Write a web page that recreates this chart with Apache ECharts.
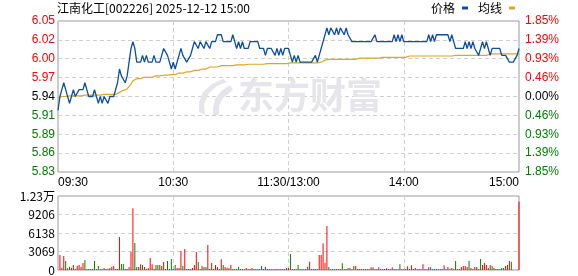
<!DOCTYPE html>
<html><head><meta charset="utf-8">
<script src="https://cdn.jsdelivr.net/npm/echarts@6/dist/echarts.min.js"></script>
<style>html,body{margin:0;padding:0;background:#fff}#c{width:578px;height:276px}</style>
</head><body><div id="c"></div>
<script>
const stockTitle = '江南化工[002226] 2025-12-12 15:00';
const seriesNames = ['价格', '均线'];
const preClose = 5.94;
const priceMin = 5.83, priceMax = 6.05, priceStep = 0.0275;
const volMax = 12275, volStep = 3068.75;
const priceTicks = ['5.83','5.86','5.89','5.91','5.94','5.97','6.00','6.02','6.05'];
const pctTicks = ['1.85%','1.39%','0.93%','0.46%','0.00%','0.46%','0.93%','1.39%','1.85%'];
const volTicks = ['0','3069','6138','9206','1.23万'];
const timeTickIdx = [0, 60, 120, 180, 240];
const timeTicks = ['09:30','10:30','11:30/13:00','14:00','15:00'];

const price = [
5.92,5.94,5.95,5.96,5.95,5.94,5.93,5.94,5.95,5.94,
5.94,5.95,5.95,5.95,5.96,5.95,5.94,5.94,5.94,5.95,
5.94,5.93,5.94,5.93,5.94,5.94,5.93,5.94,5.94,5.94,
5.94,5.96,5.98,5.97,5.97,5.96,5.97,5.99,6.01,6.02,
6.01,5.99,5.99,5.99,6.00,5.99,6.00,5.99,5.99,5.99,
6.00,5.99,5.99,5.99,6.00,6.01,6.01,6.00,5.99,5.98,
5.99,5.98,5.99,6.00,6.01,6.00,6.00,5.99,5.99,6.00,
6.01,6.02,6.02,6.01,6.02,6.02,6.01,6.02,6.02,6.01,
6.02,6.02,6.02,6.03,6.03,6.03,6.02,6.02,6.02,6.02,
6.02,6.03,6.02,6.01,6.02,6.01,6.02,6.01,6.01,6.01,
6.02,6.02,6.02,6.02,6.02,6.01,6.01,6.01,6.00,6.01,
6.01,6.01,6.01,6.00,6.01,6.00,6.01,6.00,6.01,6.01,
6.01,6.00,5.99,6.00,5.99,6.00,5.99,5.99,5.99,5.99,
5.99,5.99,5.99,5.99,6.00,5.99,6.00,6.01,6.02,6.03,
6.04,6.03,6.04,6.04,6.03,6.04,6.03,6.04,6.04,6.03,
6.04,6.03,6.03,6.02,6.02,6.02,6.02,6.02,6.02,6.02,
6.02,6.02,6.02,6.02,6.02,6.03,6.02,6.02,6.02,6.02,
6.02,6.02,6.02,6.02,6.02,6.03,6.02,6.03,6.02,6.03,
6.02,6.02,6.02,6.02,6.02,6.02,6.02,6.02,6.02,6.02,
6.02,6.02,6.02,6.03,6.02,6.03,6.02,6.03,6.03,6.03,
6.03,6.03,6.03,6.03,6.02,6.03,6.02,6.01,6.01,6.01,
6.01,6.01,6.02,6.01,6.02,6.01,6.02,6.01,6.01,6.00,
6.01,6.02,6.01,6.02,6.01,6.00,6.01,6.01,6.01,6.01,
6.01,6.00,6.00,6.00,6.00,5.99,5.99,5.99,5.99,6.00,
6.01
];

const avg = [
5.938,5.940,5.940,5.940,5.940,5.940,5.941,5.941,5.941,5.941,
5.941,5.941,5.941,5.942,5.942,5.942,5.942,5.942,5.942,5.942,
5.942,5.942,5.942,5.943,5.943,5.943,5.943,5.943,5.943,5.943,
5.943,5.944,5.946,5.948,5.949,5.950,5.951,5.953,5.958,5.963,
5.964,5.966,5.966,5.966,5.966,5.968,5.968,5.968,5.968,5.968,
5.968,5.970,5.970,5.970,5.970,5.971,5.971,5.971,5.971,5.972,
5.972,5.972,5.972,5.974,5.974,5.974,5.974,5.976,5.976,5.976,
5.976,5.978,5.978,5.978,5.978,5.980,5.980,5.980,5.980,5.983,
5.983,5.983,5.983,5.983,5.983,5.985,5.985,5.985,5.985,5.985,
5.985,5.985,5.985,5.986,5.986,5.986,5.986,5.986,5.986,5.987,
5.987,5.987,5.987,5.987,5.987,5.987,5.987,5.987,5.988,5.988,
5.988,5.988,5.988,5.988,5.988,5.988,5.988,5.988,5.988,5.988,
5.988,5.989,5.989,5.989,5.989,5.989,5.989,5.989,5.989,5.989,
5.989,5.989,5.989,5.989,5.989,5.989,5.989,5.990,5.991,5.993,
5.994,5.994,5.994,5.994,5.994,5.994,5.994,5.994,5.994,5.994,
5.994,5.994,5.994,5.994,5.994,5.994,5.994,5.996,5.996,5.996,
5.996,5.996,5.996,5.996,5.996,5.996,5.996,5.996,5.996,5.997,
5.997,5.997,5.997,5.997,5.997,5.997,5.997,5.997,5.997,5.997,
5.997,5.997,5.999,5.999,5.999,5.999,5.999,5.999,5.999,5.999,
5.999,5.999,5.999,5.999,5.999,5.999,5.999,5.999,5.999,5.999,
5.999,5.999,5.999,5.999,5.999,5.999,5.999,6.000,6.000,6.000,
6.000,6.000,6.000,6.000,6.000,6.000,6.000,6.000,6.000,6.000,
6.000,6.000,6.000,6.000,6.002,6.002,6.002,6.002,6.002,6.002,
6.002,6.002,6.002,6.002,6.002,6.002,6.002,6.002,6.002,6.002,
6.002
];

const volume = [
0,2490,390,2320,1490,280,550,390,830,170,
720,830,550,1160,1660,170,170,170,170,1490,
170,660,170,170,330,170,200,330,550,660,
170,170,5470,1000,1000,170,170,500,2990,10230,
4480,500,500,940,830,500,170,300,1990,940,
170,830,830,830,660,1330,170,1490,170,1830,
170,830,330,330,3150,660,3480,170,170,170,
330,830,2990,1330,170,660,500,500,4150,170,
1160,170,830,500,170,1770,830,500,390,280,
830,170,170,170,500,170,170,170,330,170,
170,330,170,170,170,170,660,170,500,170,
170,170,170,170,170,170,170,170,170,330,
330,2650,170,170,170,830,170,170,170,170,
550,1380,170,170,170,170,2490,2490,4430,1220,
7300,500,170,170,170,170,170,170,1100,170,
170,330,330,170,660,660,170,170,170,170,
170,170,170,440,440,170,170,440,170,170,
170,280,170,170,440,170,170,170,940,170,
170,170,610,170,770,170,330,170,170,170,
940,170,170,440,440,170,170,170,170,170,
170,770,170,500,170,330,170,1490,170,170,
500,660,660,500,1490,330,170,500,500,170,
1830,830,1160,830,330,830,660,330,170,170,
170,330,330,660,830,1490,1380,0,0,0,
11340
];

const volUp = [
1,1,1,1,0,1,0,1,1,0,
1,1,1,1,0,0,1,1,1,0,
1,0,1,1,1,1,1,0,1,1,
1,1,1,0,0,0,1,1,1,1,
0,0,1,1,0,1,1,1,1,1,
1,1,0,0,1,1,1,0,1,0,
1,0,1,1,1,0,1,0,0,1,
1,1,1,0,1,1,0,0,1,1,
1,1,1,1,1,1,0,1,1,1,
1,0,1,1,0,1,0,1,1,1,
1,1,1,0,1,1,0,1,1,1,
1,1,1,1,0,1,1,1,0,1,
1,0,1,0,1,0,1,1,1,1,
1,1,1,1,1,1,1,1,1,1,
1,0,1,1,0,1,1,1,0,1,
1,0,1,1,0,1,1,1,1,1,
1,1,1,1,1,1,1,1,1,1,
1,1,1,1,1,0,1,1,0,1,
1,1,1,1,1,1,1,1,1,1,
1,1,1,1,0,1,1,1,1,1,
1,1,1,1,1,1,1,0,1,1,
1,1,1,1,0,1,1,1,1,1,
0,1,1,1,0,0,1,0,1,1,
1,0,0,1,1,1,0,1,1,1,
1
];

// minute categories 09:30-11:30, 13:01-15:00
const times = [];
for (let m = 0; m < price.length; m++) {
  const t = m <= 120 ? 570 + m : 780 + (m - 120);
  const hh = String(Math.floor(t / 60)).padStart(2, '0');
  const mm = String(t % 60).padStart(2, '0');
  times.push(hh + ':' + mm);
}

const RED = '#ff0000', GREEN = '#008000', BLACK = '#000000';
const BLUE = '#0d4fa3', GOLD = '#dfa626';
const FONT = '"Liberation Sans", Arial, sans-serif';
const CJK = '"Noto Sans CJK SC", "Liberation Sans", sans-serif';

function priceIdx(v) { return Math.round((parseFloat(v) - priceMin) / priceStep); }
function sideColor(v) { const k = priceIdx(v); return k > 4 ? RED : (k < 4 ? GREEN : BLACK); }

const dashed = { show: true, lineStyle: { color: '#cfcfcf', type: [4, 3], width: 1 } };
const vSplit = { show: true, interval: (i) => i === 60 || i === 120 || i === 180,
  lineStyle: { color: '#cfcfcf', type: [4, 3], width: 1 } };

const WM = '#e6e6ea';
const chart = echarts.init(document.getElementById('c'), null, { renderer: 'canvas' });
chart.setOption({
  animation: false,
  backgroundColor: '#fff',
  title: {
    text: stockTitle, left: 57, top: 2, padding: 0,
    textStyle: { fontSize: 12, fontWeight: 'normal', color: '#000', fontFamily: CJK }
  },
  legend: {
    data: seriesNames, right: 63, top: 2, padding: 0, align: 'right',
    icon: 'rect', itemWidth: 6, itemHeight: 3, itemGap: 10, selectedMode: false,
    textStyle: { fontSize: 12, color: '#000', fontFamily: CJK, padding: [0, 2, 0, 0] }
  },
  graphic: [
    { type: 'polygon', silent: true, z: 1,
      shape: { points: [[223,79],[212,84],[203,92],[199,102],[199,112],[205,115],[204,104],[209,93],[217,86],[227,82]] },
      style: { fill: WM } },
    { type: 'polygon', silent: true, z: 1,
      shape: { points: [[230,85],[221,91],[215,99],[213,108],[213,115],[219,115],[219,106],[223,98],[233,90]] },
      style: { fill: WM } },
    { type: 'text', silent: true, z: 1, x: 238, y: 77,
      style: { text: '东方财富', font: 'bold 36px "Noto Sans CJK SC", sans-serif', fill: WM } }
  ],
  grid: [
    { left: 58, top: 21, width: 461, height: 151, show: true, borderColor: '#999', borderWidth: 1 },
    { left: 58, top: 196, width: 461, height: 74, show: true, borderColor: '#999', borderWidth: 1 }
  ],
  xAxis: [
    { type: 'category', gridIndex: 0, data: times, boundaryGap: false,
      axisLine: { show: false }, axisTick: { show: false },
      axisLabel: { interval: (i) => timeTickIdx.indexOf(i) >= 0,
        formatter: (v, i) => timeTicks[timeTickIdx.indexOf(i)],
        alignMinLabel: 'left', alignMaxLabel: 'right',
        margin: 5, fontSize: 12, color: '#000', fontFamily: FONT },
      splitLine: vSplit },
    { type: 'category', gridIndex: 1, data: times, boundaryGap: false,
      axisLine: { show: false }, axisTick: { show: false }, axisLabel: { show: false },
      splitLine: vSplit }
  ],
  yAxis: [
    { type: 'value', gridIndex: 0, min: priceMin, max: priceMax, interval: priceStep,
      axisLine: { show: false }, axisTick: { show: false }, splitLine: dashed,
      axisLabel: { formatter: (v) => priceTicks[priceIdx(v)], color: sideColor,
        margin: 3, fontSize: 12, fontFamily: FONT } },
    { type: 'value', gridIndex: 0, position: 'right', min: priceMin, max: priceMax, interval: priceStep,
      axisLine: { show: false }, axisTick: { show: false }, splitLine: { show: false },
      axisLabel: { formatter: (v) => pctTicks[priceIdx(v)], color: sideColor,
        margin: 6, fontSize: 12, fontFamily: FONT } },
    { type: 'value', gridIndex: 1, min: 0, max: volMax, interval: volStep,
      axisLine: { show: false }, axisTick: { show: false }, splitLine: dashed,
      axisLabel: { formatter: (v) => volTicks[Math.round(parseFloat(v) / volStep)],
        margin: 3, fontSize: 12, color: '#000', fontFamily: CJK } }
  ],
  series: [
    { name: seriesNames[0], type: 'line', xAxisIndex: 0, yAxisIndex: 0, data: price,
      symbol: 'none', color: BLUE, lineStyle: { color: BLUE, width: 1.3 }, z: 4 },
    { name: seriesNames[1], type: 'line', xAxisIndex: 0, yAxisIndex: 0, data: avg,
      symbol: 'none', color: GOLD, lineStyle: { color: GOLD, width: 1.2 }, z: 3 },
    { name: '成交量', type: 'bar', xAxisIndex: 1, yAxisIndex: 2, barWidth: 1,
      data: volume.map((v, i) => ({ value: v, itemStyle: { color: volUp[i] ? RED : GREEN } })), z: 3 }
  ]
});
</script></body></html>
